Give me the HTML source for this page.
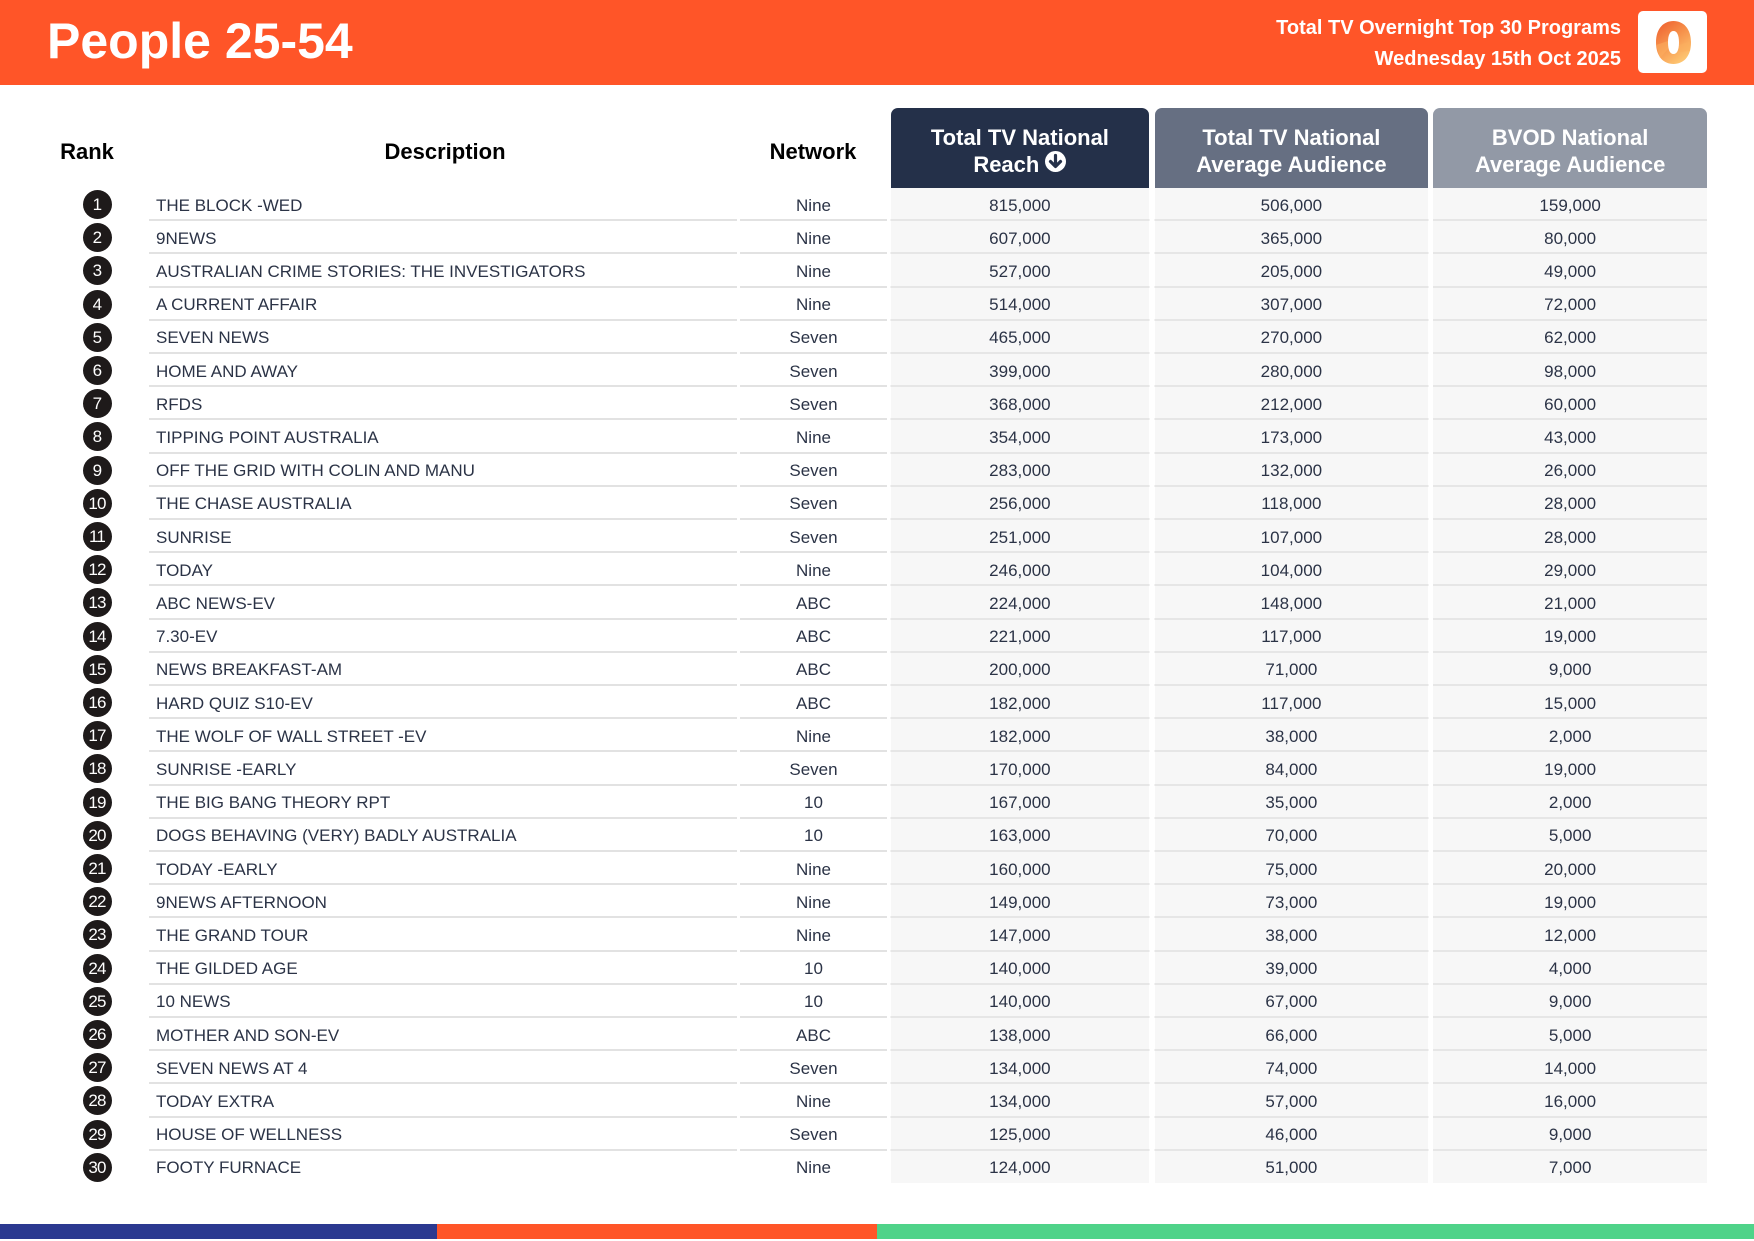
<!DOCTYPE html>
<html>
<head>
<meta charset="utf-8">
<style>
*{margin:0;padding:0;box-sizing:border-box}
html,body{width:1754px;height:1241px;background:#fff;overflow:hidden;font-family:"Liberation Sans",Arial,sans-serif;position:relative}
.abs{position:absolute}
#hdr{position:absolute;left:0;top:0;width:1754px;height:85px;background:#FF5528}
#title{position:absolute;left:47px;top:11px;font-size:50px;font-weight:bold;color:#fff;line-height:60px;white-space:nowrap}
.rt{position:absolute;right:133px;font-size:20px;font-weight:bold;color:#fff;white-space:nowrap;line-height:24px;text-align:right}
.ch{position:absolute;top:138px;font-size:22px;font-weight:bold;color:#000;line-height:28px;text-align:center;white-space:nowrap}
.hb{position:absolute;top:108px;height:80px;border-radius:7px 7px 0 0;color:#fff;font-weight:bold;font-size:22px;line-height:27px;text-align:center;padding-top:15.5px;white-space:nowrap}
.bg{position:absolute;top:188px;height:995px;background:#f7f7f7}
.r{position:absolute;left:0;width:1754px;height:33.2px}
.r::after{content:"";position:absolute;top:31.2px;left:149px;width:1558.3px;height:2px;background:linear-gradient(to right,#e2e2e2 0px,#e2e2e2 588px,transparent 588px,transparent 591px,#e2e2e2 591px,#e2e2e2 738px,transparent 738px,transparent 741.5px,#e6e6e6 741.5px,#e6e6e6 1000.3px,transparent 1000.3px,transparent 1005.5px,#e6e6e6 1005.5px,#e6e6e6 1279.3px,transparent 1279.3px,transparent 1284px,#e6e6e6 1284px)}
.r.last::after{display:none}
.r b{position:absolute;left:82.5px;top:2px;width:29px;height:29px;border-radius:50%;background:#1e1a1a;color:#fff;font-size:17px;font-weight:normal;line-height:29px;text-align:center;letter-spacing:-0.8px}
.r i,.r s,.r u,.r em,.r q{position:absolute;top:0.6px;height:33.2px;line-height:33.2px;font-size:17px;color:#2b3346;white-space:nowrap;font-style:normal;text-decoration:none;text-align:center}
.r q::before,.r q::after{content:none}
.r i{left:156px;text-align:left}
.r s{left:740px;width:147px}
.r u{left:890.5px;width:258.8px}
.r em{left:1154.5px;width:273.8px}
.r q{left:1433px;width:274.3px}
.arr{display:inline-block;width:21px;height:21px;border-radius:50%;background:#fff;vertical-align:0px;position:relative}
.arr svg{position:absolute;left:0;top:0}
</style>
</head>
<body>
<div id="hdr"></div>
<div id="title">People 25-54</div>
<div class="rt" style="top:16px">Total TV Overnight Top 30 Programs</div>
<div class="rt" style="top:47px">Wednesday 15th Oct 2025</div>
<svg class="abs" style="left:1638px;top:11px" width="69" height="62" viewBox="0 0 69 62">
<defs>
<linearGradient id="g" x1="0" y1="0" x2="0.6" y2="1">
<stop offset="0" stop-color="#EE5A2C"/>
<stop offset="0.5" stop-color="#F6904A"/>
<stop offset="1" stop-color="#FDC470"/>
</linearGradient>
</defs>
<rect x="0" y="0" width="69" height="62" rx="5" fill="#fff"/>
<path fill-rule="evenodd" fill="url(#g)" d="M35.5 10 C26 10 18 17 18 31.5 C18 46 26 53 35.5 53 C45 53 53 46 53 31.5 C53 17 45 10 35.5 10 Z M35.5 20 C32 20 30 24 30 31.5 C30 39 32 43 35.5 43 C39 43 41 39 41 31.5 C41 24 39 20 35.5 20 Z"/>
<path fill="#FBAE5E" opacity="0.55" d="M18 34 L30 30 L30 38 L22 47 Z M41 34 L53 30 L52 40 L41 41 Z"/>
</svg>

<div class="ch" style="left:57px;width:60px">Rank</div>
<div class="ch" style="left:345px;width:200px">Description</div>
<div class="ch" style="left:753px;width:120px">Network</div>

<div class="hb" style="left:890.5px;width:258.8px;background:#243049">Total TV National<br>Reach <span class="arr"><svg width="21" height="21" viewBox="0 0 21 21"><path d="M10.5 4.5 V15 M5.5 10.5 L10.5 15.5 L15.5 10.5" stroke="#243049" stroke-width="3.2" fill="none" stroke-linecap="round" stroke-linejoin="round"/></svg></span></div>
<div class="hb" style="left:1154.5px;width:273.8px;background:#666F82">Total TV National<br>Average Audience</div>
<div class="hb" style="left:1433px;width:274.3px;background:#9299A6">BVOD National<br>Average Audience</div>

<div class="bg" style="left:890.5px;width:258.8px"></div>
<div class="bg" style="left:1154.5px;width:273.8px"></div>
<div class="bg" style="left:1433px;width:274.3px"></div>

<div class="r" style="top:188px"><b>1</b><i>THE BLOCK -WED</i><s>Nine</s><u>815,000</u><em>506,000</em><q>159,000</q></div>
<div class="r" style="top:221.2px"><b>2</b><i>9NEWS</i><s>Nine</s><u>607,000</u><em>365,000</em><q>80,000</q></div>
<div class="r" style="top:254.4px"><b>3</b><i>AUSTRALIAN CRIME STORIES: THE INVESTIGATORS</i><s>Nine</s><u>527,000</u><em>205,000</em><q>49,000</q></div>
<div class="r" style="top:287.6px"><b>4</b><i>A CURRENT AFFAIR</i><s>Nine</s><u>514,000</u><em>307,000</em><q>72,000</q></div>
<div class="r" style="top:320.8px"><b>5</b><i>SEVEN NEWS</i><s>Seven</s><u>465,000</u><em>270,000</em><q>62,000</q></div>
<div class="r" style="top:354px"><b>6</b><i>HOME AND AWAY</i><s>Seven</s><u>399,000</u><em>280,000</em><q>98,000</q></div>
<div class="r" style="top:387.2px"><b>7</b><i>RFDS</i><s>Seven</s><u>368,000</u><em>212,000</em><q>60,000</q></div>
<div class="r" style="top:420.4px"><b>8</b><i>TIPPING POINT AUSTRALIA</i><s>Nine</s><u>354,000</u><em>173,000</em><q>43,000</q></div>
<div class="r" style="top:453.6px"><b>9</b><i>OFF THE GRID WITH COLIN AND MANU</i><s>Seven</s><u>283,000</u><em>132,000</em><q>26,000</q></div>
<div class="r" style="top:486.8px"><b>10</b><i>THE CHASE AUSTRALIA</i><s>Seven</s><u>256,000</u><em>118,000</em><q>28,000</q></div>
<div class="r" style="top:520px"><b>11</b><i>SUNRISE</i><s>Seven</s><u>251,000</u><em>107,000</em><q>28,000</q></div>
<div class="r" style="top:553.2px"><b>12</b><i>TODAY</i><s>Nine</s><u>246,000</u><em>104,000</em><q>29,000</q></div>
<div class="r" style="top:586.4px"><b>13</b><i>ABC NEWS-EV</i><s>ABC</s><u>224,000</u><em>148,000</em><q>21,000</q></div>
<div class="r" style="top:619.6px"><b>14</b><i>7.30-EV</i><s>ABC</s><u>221,000</u><em>117,000</em><q>19,000</q></div>
<div class="r" style="top:652.8px"><b>15</b><i>NEWS BREAKFAST-AM</i><s>ABC</s><u>200,000</u><em>71,000</em><q>9,000</q></div>
<div class="r" style="top:686px"><b>16</b><i>HARD QUIZ S10-EV</i><s>ABC</s><u>182,000</u><em>117,000</em><q>15,000</q></div>
<div class="r" style="top:719.2px"><b>17</b><i>THE WOLF OF WALL STREET -EV</i><s>Nine</s><u>182,000</u><em>38,000</em><q>2,000</q></div>
<div class="r" style="top:752.4px"><b>18</b><i>SUNRISE -EARLY</i><s>Seven</s><u>170,000</u><em>84,000</em><q>19,000</q></div>
<div class="r" style="top:785.6px"><b>19</b><i>THE BIG BANG THEORY RPT</i><s>10</s><u>167,000</u><em>35,000</em><q>2,000</q></div>
<div class="r" style="top:818.8px"><b>20</b><i>DOGS BEHAVING (VERY) BADLY AUSTRALIA</i><s>10</s><u>163,000</u><em>70,000</em><q>5,000</q></div>
<div class="r" style="top:852px"><b>21</b><i>TODAY -EARLY</i><s>Nine</s><u>160,000</u><em>75,000</em><q>20,000</q></div>
<div class="r" style="top:885.2px"><b>22</b><i>9NEWS AFTERNOON</i><s>Nine</s><u>149,000</u><em>73,000</em><q>19,000</q></div>
<div class="r" style="top:918.4px"><b>23</b><i>THE GRAND TOUR</i><s>Nine</s><u>147,000</u><em>38,000</em><q>12,000</q></div>
<div class="r" style="top:951.6px"><b>24</b><i>THE GILDED AGE</i><s>10</s><u>140,000</u><em>39,000</em><q>4,000</q></div>
<div class="r" style="top:984.8px"><b>25</b><i>10 NEWS</i><s>10</s><u>140,000</u><em>67,000</em><q>9,000</q></div>
<div class="r" style="top:1018px"><b>26</b><i>MOTHER AND SON-EV</i><s>ABC</s><u>138,000</u><em>66,000</em><q>5,000</q></div>
<div class="r" style="top:1051.2px"><b>27</b><i>SEVEN NEWS AT 4</i><s>Seven</s><u>134,000</u><em>74,000</em><q>14,000</q></div>
<div class="r" style="top:1084.4px"><b>28</b><i>TODAY EXTRA</i><s>Nine</s><u>134,000</u><em>57,000</em><q>16,000</q></div>
<div class="r" style="top:1117.6px"><b>29</b><i>HOUSE OF WELLNESS</i><s>Seven</s><u>125,000</u><em>46,000</em><q>9,000</q></div>
<div class="r last" style="top:1150.8px"><b>30</b><i>FOOTY FURNACE</i><s>Nine</s><u>124,000</u><em>51,000</em><q>7,000</q></div>

<div class="abs" style="left:0;top:1224px;width:437px;height:15px;background:#2B3990"></div>
<div class="abs" style="left:437px;top:1224px;width:440px;height:15px;background:#FF5528"></div>
<div class="abs" style="left:877px;top:1224px;width:877px;height:15px;background:#4FD389"></div>
</body>
</html>
